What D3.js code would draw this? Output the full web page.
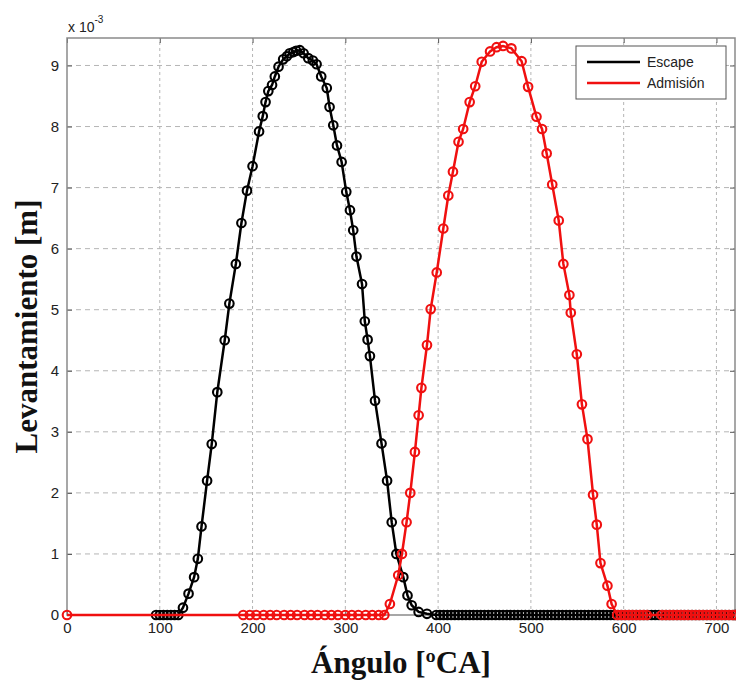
<!DOCTYPE html>
<html>
<head>
<meta charset="utf-8">
<script src="https://cdn.jsdelivr.net/npm/d3@7"></script>
<style>
  body { margin: 0; background: #fff; }
  svg { display: block; }
  .tick-label { font-family: "Liberation Sans", Arial, sans-serif; font-size: 15px; fill: #222; }
  .axis-title { font-family: "Liberation Serif", "Times New Roman", serif; font-weight: bold; font-size: 31px; fill: #111; }
</style>
</head>
<body>
<div id="chart"></div>
<script>
// Escape valve lift (angle in ºCA, lift in units of 1e-3 m)
const escapeCurve = [
  [96,0],[100,0],[104,0],[108,0],[112,0],[116,0],[120,0],
  [125,0.12],[131,0.35],[137,0.62],[141,0.92],[145,1.45],[151,2.2],[156,2.8],[162,3.65],
  [170,4.5],[175,5.1],[182,5.75],[188,6.42],[194,6.95],[200,7.35],[207,7.92],[211,8.17],
  [214,8.4],[217,8.58],[221,8.68],[224,8.82],[228,8.98],[233,9.1],[237,9.15],[240,9.2],
  [244,9.22],[247,9.24],[251,9.25],[255,9.2],[260,9.12],[265,9.08],[269,9.02],[274,8.82],
  [280,8.63],[283,8.32],[287,8.02],[291,7.69],[296,7.42],[301,6.93],[305,6.63],[308.5,6.3],
  [312,5.87],[318,5.42],[321,4.81],[324,4.51],[326.5,4.24],[332,3.51],[339,2.81],[345,2.2],
  [350,1.52],[355,1.0],[362.5,0.62],[367,0.32],[371.5,0.16],[379,0.05],[388,0.02],[398,0]
];
const escapeZeroAngles = [
  402,406,410,414,418,422,426,430,434,438,442,446,450,454,458,462,466,470,474,478,
  482,486,490,494,498,502,506,510,514,518,522,526,530,534,538,542,546,550,554,558,
  562,566,570,574,578,582,586,590,594,598,602,606,610,614,618,622,626,630,634,638,
  642,646,650,654,658,662,666,670,674,678,682,686,690,694,698,702,706,710,714,718,720
];

// Intake valve lift
const admisionZeroStart = [0,190,197,204,212,219,226,234,241,248,256,263,270,278,285,292,300,307,314,322,329,336,342];
const admisionCurve = [
  [348,0.18],[357,0.65],[361,1.0],[366,1.52],[370,2.0],[375,2.67],[379,3.27],[382,3.72],
  [388,4.42],[392,5.01],[398.5,5.61],[405.6,6.33],[411,6.87],[416,7.26],[422,7.75],[427,7.96],
  [434,8.4],[440,8.66],[447,9.06],[456,9.23],[463,9.3],[470,9.32],[479,9.28],[490,9.07],
  [497,8.65],[506,8.16],[512,7.96],[517,7.56],[523,7.05],[530,6.46],[535,5.75],[541.5,5.24],
  [543,4.95],[549.5,4.27],[555,3.45],[561,2.88],[567,1.97],[571,1.48],[575,0.85],[582.5,0.48],[587,0.18]
];
const admisionZeroEnd = [
  593,597,601,605,609,613,617,621,625,
  641,645,649,653,657,661,665,669,673,677,681,685,689,693,697,701,705,709,713,717,720
];

const xTicks = [0,100,200,300,400,500,600,700];
const yTicks = [0,1,2,3,4,5,6,7,8,9];
const seriesNames = ["Escape", "Admisión"];
const seriesColors = ["#000000", "#f01010"];

const W = 736, H = 681;
const margin = {top: 38, right: 1, bottom: 66, left: 67};

const svg = d3.select("#chart").append("svg")
  .attr("width", W).attr("height", H);

const x = d3.scaleLinear().domain([0, 720]).range([margin.left, W - margin.right]);
const y = d3.scaleLinear().domain([0, 9.45]).range([H - margin.bottom, margin.top]);

// Grid
const grid = svg.append("g");
grid.selectAll("line.vgrid").data(xTicks.filter(d => d > 0)).enter().append("line")
  .attr("x1", d => x(d)).attr("x2", d => x(d))
  .attr("y1", y.range()[0]).attr("y2", y.range()[1])
  .attr("stroke", "#b5b5b5").attr("stroke-width", 1).attr("stroke-dasharray", "3,3");
grid.selectAll("line.hgrid").data(yTicks.filter(d => d > 0)).enter().append("line")
  .attr("x1", x.range()[0]).attr("x2", x.range()[1])
  .attr("y1", d => y(d)).attr("y2", d => y(d))
  .attr("stroke", "#b5b5b5").attr("stroke-width", 1).attr("stroke-dasharray", "5,4");

// Axes (ticks pointing inward)
svg.append("g")
  .attr("transform", `translate(0,${y.range()[0]})`)
  .call(d3.axisBottom(x).tickValues(xTicks).tickSize(-5).tickPadding(10).tickSizeOuter(0))
  .call(g => g.select(".domain").remove())
  .call(g => g.selectAll("line").attr("stroke", "#555"))
  .call(g => g.selectAll("text").attr("class", "tick-label").attr("dy", "0.5em"));
svg.append("g")
  .attr("transform", `translate(0,${y.range()[1]})`)
  .call(d3.axisTop(x).tickValues(xTicks).tickSize(-5).tickFormat("").tickSizeOuter(0))
  .call(g => g.select(".domain").remove())
  .call(g => g.selectAll("line").attr("stroke", "#555"));
svg.append("g")
  .attr("transform", `translate(${x.range()[0]},0)`)
  .call(d3.axisLeft(y).tickValues(yTicks).tickSize(-5).tickPadding(8).tickSizeOuter(0))
  .call(g => g.select(".domain").remove())
  .call(g => g.selectAll("line").attr("stroke", "#555"))
  .call(g => g.selectAll("text").attr("class", "tick-label"));
svg.append("g")
  .attr("transform", `translate(${x.range()[1]},0)`)
  .call(d3.axisRight(y).tickValues(yTicks).tickSize(-5).tickFormat("").tickSizeOuter(0))
  .call(g => g.select(".domain").remove())
  .call(g => g.selectAll("line").attr("stroke", "#555"));

// Frame
svg.append("rect")
  .attr("x", x.range()[0]).attr("y", y.range()[1])
  .attr("width", x.range()[1] - x.range()[0]).attr("height", y.range()[0] - y.range()[1])
  .attr("fill", "none").attr("stroke", "#8a8a8a").attr("stroke-width", 1.5);

// Exponent label
const expo = svg.append("text").attr("class", "tick-label")
  .attr("x", x.range()[0] + 1).attr("y", 32).style("font-size", "14px");
expo.append("tspan").text("x 10");
expo.append("tspan").attr("dy", -9).style("font-size", "10px").text("-3");

// Series
const series = [
  escapeCurve.concat(escapeZeroAngles.map(a => [a, 0])),
  admisionZeroStart.map(a => [a, 0]).concat(admisionCurve, admisionZeroEnd.map(a => [a, 0]))
];
const line = d3.line().x(d => x(d[0])).y(d => y(d[1]));

series.forEach((data, i) => {
  const g = svg.append("g");
  g.append("path").datum(data)
    .attr("d", line)
    .attr("fill", "none").attr("stroke", seriesColors[i]).attr("stroke-width", 2.5);
  g.selectAll("circle").data(data).enter().append("circle")
    .attr("cx", d => x(d[0])).attr("cy", d => y(d[1])).attr("r", 4.3)
    .attr("fill", "none").attr("stroke", seriesColors[i]).attr("stroke-width", 2.1);
});

// Legend
const lg = svg.append("g").attr("transform", "translate(576,46)");
lg.append("rect").attr("width", 150).attr("height", 53)
  .attr("fill", "#fff").attr("stroke", "#555").attr("stroke-width", 1);
seriesNames.forEach((name, i) => {
  const yy = 16 + i * 21;
  lg.append("line").attr("x1", 11).attr("x2", 64).attr("y1", yy).attr("y2", yy)
    .attr("stroke", seriesColors[i]).attr("stroke-width", 2.5);
  lg.append("text").attr("class", "tick-label").style("font-size", "14px")
    .attr("x", 71).attr("y", yy).attr("dy", "0.35em").text(name);
});

// Axis titles
svg.append("text").attr("class", "axis-title")
  .attr("x", (x.range()[0] + x.range()[1]) / 2).attr("y", 673)
  .attr("text-anchor", "middle").text("Ángulo [ºCA]");
svg.append("text").attr("class", "axis-title")
  .attr("transform", `translate(37,${(y.range()[0] + y.range()[1]) / 2}) rotate(-90)`)
  .attr("text-anchor", "middle").text("Levantamiento [m]");
</script>
</body>
</html>
